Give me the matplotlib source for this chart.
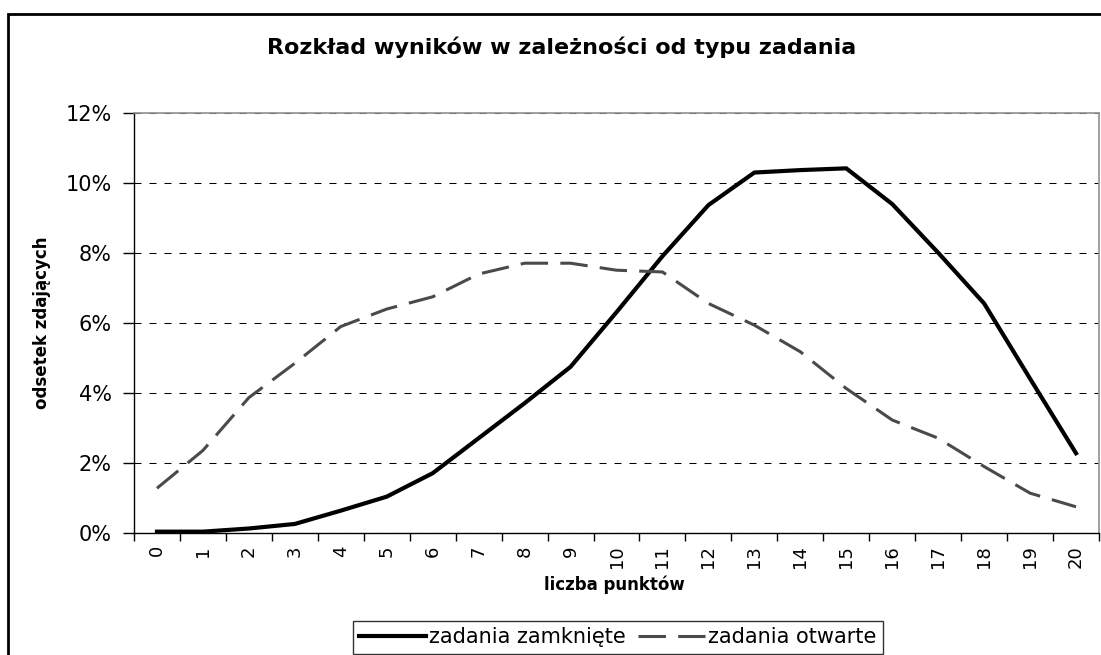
import matplotlib
matplotlib.use("Agg")
import matplotlib.pyplot as plt
from matplotlib.patches import Rectangle
from matplotlib.ticker import FuncFormatter, MultipleLocator, FixedLocator

# ---- data ----
points = list(range(0, 21))
tick_labels = [str(p) for p in points]
zamkniete = [0.03, 0.03, 0.12, 0.25, 0.63, 1.03, 1.70, 2.70, 3.70, 4.74, 6.30,
             7.90, 9.36, 10.29, 10.36, 10.41, 9.39, 8.00, 6.55, 4.40, 2.27]
otwarte = [1.27, 2.35, 3.86, 4.84, 5.89, 6.39, 6.74, 7.39, 7.70, 7.70, 7.50,
           7.45, 6.55, 5.93, 5.17, 4.12, 3.22, 2.70, 1.89, 1.13, 0.74]
series_names = ["zadania zamknięte", "zadania otwarte"]
title = "Rozkład wyników w zależności od typu zadania"
xlabel = "liczba punktów"
ylabel = "odsetek zdających"

W, H = 1101, 655
fig = plt.figure(figsize=(W / 100, H / 100), dpi=100)
fig.patch.set_facecolor("white")

# axes placement (pixels)
L, R, T, B = 134, 1099, 112.7, 532.7
ax = fig.add_axes([L / W, 1 - B / H, (R - L) / W, (B - T) / H])

x = list(range(len(points)))
ax.plot(x, zamkniete, color="black", lw=3.0, solid_joinstyle="miter",
        label=series_names[0], zorder=3)
ax.plot(x, otwarte, color="#4a4a4a", lw=2.2, dashes=[9, 4],
        label=series_names[1], zorder=3)

ax.set_xlim(-0.5, len(points) - 0.5)
ax.set_ylim(0, 12)
ax.yaxis.set_major_locator(MultipleLocator(2))
ax.yaxis.set_major_formatter(FuncFormatter(lambda v, p: f"{v:.0f}%"))
ax.yaxis.grid(True, color="black", lw=0.75, linestyle=(0, (6.7, 7.7)))
ax.set_axisbelow(True)

ax.set_xticks(x)
ax.set_xticklabels(tick_labels, rotation=90, fontsize=13)
ax.xaxis.set_minor_locator(FixedLocator([i - 0.5 for i in range(len(points) + 1)]))
ax.tick_params(axis="x", which="major", length=0, pad=9)
ax.tick_params(axis="x", which="minor", length=6, width=1, direction="out", color="black")
ax.tick_params(axis="y", which="major", length=8, width=1, direction="out",
               labelsize=15, pad=8, color="black")

for s in ["left", "bottom"]:
    ax.spines[s].set_color("black")
    ax.spines[s].set_linewidth(1.0)
for s in ["top", "right"]:
    ax.spines[s].set_color("#909090")
    ax.spines[s].set_linewidth(1.2)

# texts
fig.text(562 / W, 1 - 47 / H, title, ha="center", va="center",
         fontsize=16, fontweight="bold")
fig.text(614 / W, 1 - 585 / H, xlabel, ha="center", va="center",
         fontsize=12, fontweight="bold")
fig.text(42 / W, 1 - 323 / H, ylabel, ha="center", va="center",
         rotation=90, fontsize=12, fontweight="bold")

# legend
leg = fig.legend(loc="upper left", bbox_to_anchor=(353 / W, 1 - 621 / H),
                 ncol=2, fontsize=15, frameon=True, fancybox=False,
                 edgecolor="black", handlelength=3.2, handletextpad=0.15,
                 columnspacing=0.6, borderaxespad=0, borderpad=0.3)
leg.get_frame().set_linewidth(1.0)

# outer frame (cropped on right and bottom)
fig.add_artist(Rectangle((8 / W, -0.2), 1.2, (1 - 14 / H) + 0.2,
                         transform=fig.transFigure, fill=False,
                         lw=2.0, ec="black", clip_on=False))

fig.savefig("out.png", dpi=100)
